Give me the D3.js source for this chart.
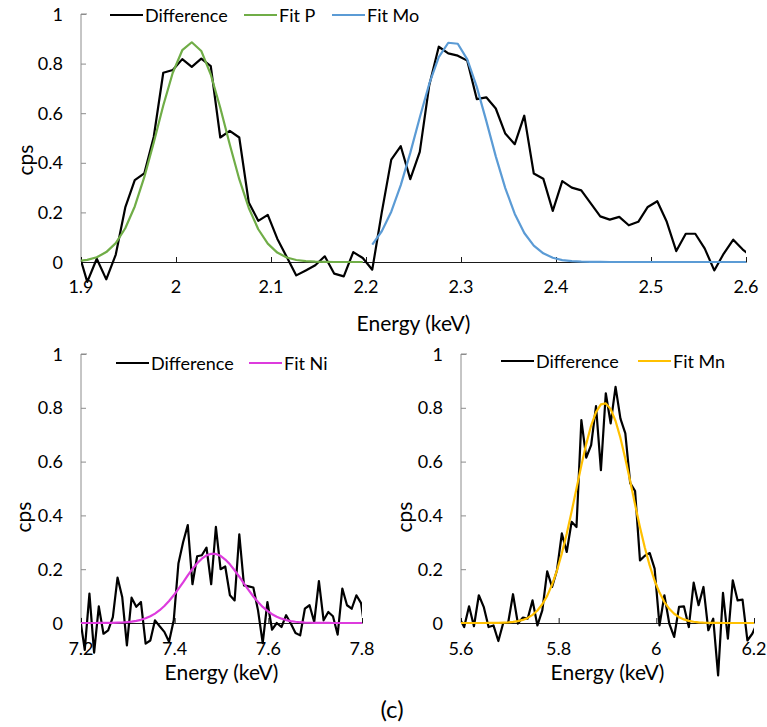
<!DOCTYPE html>
<html><head><meta charset="utf-8">
<script src="https://cdn.jsdelivr.net/npm/d3@7"></script>
<style>
body{margin:0;background:#fff;}
svg text{font-family:Lato,"Open Sans",sans-serif;fill:#000;}
</style></head>
<body><svg id="c" width="767" height="727"></svg>
<script>
// ---------- Top panel (P and Mo) ----------
const energiesTop = [1.8966,1.9066,1.9166,1.9266,1.9366,1.9466,1.9566,1.9666,1.9766,1.9866,
1.9966,2.0066,2.0166,2.0266,2.0366,2.0466,2.0566,2.0666,2.0766,2.0866,
2.0966,2.1066,2.1166,2.1266,2.1366,2.1466,2.1566,2.1666,2.1766,2.1866,
2.1966,2.2066,2.2166,2.2266,2.2366,2.2466,2.2566,2.2666,2.2766,2.2866,
2.2966,2.3066,2.3166,2.3266,2.3366,2.3466,2.3566,2.3666,2.3766,2.3866,
2.3966,2.4066,2.4166,2.4266,2.4366,2.4466,2.4566,2.4666,2.4766,2.4866,
2.4966,2.5066,2.5166,2.5266,2.5366,2.5466,2.5566,2.5666,2.5766,2.5866,
2.5966,2.6066];
const diffTop = [0.05,-0.08,0.013,-0.07,0.03,0.22,0.33,0.357,0.505,0.763,
0.774,0.818,0.787,0.82,0.79,0.502,0.529,0.502,0.24,0.166,
0.19,0.094,0.02,-0.054,-0.034,-0.013,0.023,-0.047,-0.058,0.04,
0.016,-0.031,0.2,0.413,0.467,0.334,0.444,0.713,0.868,0.841,
0.832,0.812,0.657,0.664,0.619,0.518,0.475,0.59,0.357,0.336,
0.206,0.326,0.30,0.289,0.236,0.184,0.171,0.182,0.148,0.162,
0.222,0.245,0.162,0.044,0.114,0.114,0.054,-0.034,0.034,0.09,
0.05,0.02];
// Fit P covers energiesTop[0..30], Fit Mo covers energiesTop[31..71]
const fitP = [0.0035,0.0085,0.019,0.040,0.076,0.136,0.224,0.342,0.482,0.631,
0.763,0.854,0.886,0.851,0.756,0.622,0.474,0.334,0.218,0.132,
0.074,0.038,0.018,0.008,0.0033,0.0013,0.0004,0.0001,0,0,0];
const fitMo = [0.070,0.124,0.203,0.310,0.440,0.583,0.719,0.826,0.884,0.880,
0.817,0.706,0.569,0.426,0.298,0.194,0.117,0.066,0.035,0.017,
0.0078,0.0033,0.0013,0.0005,0.0002,0,0,0,0,0,
0,0,0,0,0,0,0,0,0,0,0];
const topTicks = [1.9,2.0,2.1,2.2,2.3,2.4,2.5,2.6];
const topTickLabels = ["1.9","2","2.1","2.2","2.3","2.4","2.5","2.6"];

// ---------- Bottom-left panel (Ni) ----------
const energiesNi = [7.198,7.208,7.218,7.228,7.238,7.248,7.258,7.268,7.278,7.288,
7.298,7.308,7.318,7.328,7.338,7.348,7.358,7.368,7.378,7.388,
7.398,7.408,7.418,7.428,7.438,7.448,7.458,7.468,7.478,7.488,
7.498,7.508,7.518,7.528,7.538,7.548,7.558,7.568,7.578,7.588,
7.598,7.608,7.618,7.628,7.638,7.648,7.658,7.668,7.678,7.688,
7.698,7.708,7.718,7.728,7.738,7.748,7.758,7.768,7.778,7.788,
7.798,7.808];
const diffNi = [0.02,-0.1,0.109,-0.11,0.062,-0.04,-0.027,0.022,0.169,0.097,
-0.083,0.094,0.06,0.078,-0.077,-0.065,0.01,-0.012,-0.033,-0.07,
0.01,0.221,0.30,0.364,0.144,0.248,0.252,0.28,0.144,0.357,
0.2,0.21,0.103,0.084,0.33,0.14,0.136,0.132,0.047,-0.075,
0.078,-0.025,0,-0.015,0.029,-0.002,-0.037,-0.046,0.053,0.066,
0.004,0.156,0.01,0.041,0.025,-0.043,0.128,0.066,0.053,0.103,
0.074,-0.05];
const fitNi = [0,0,0,0,0.0001,0.0002,0.0004,0.0007,0.0012,0.0019,
0.0032,0.0050,0.0078,0.0118,0.0174,0.0249,0.0349,0.0476,0.0632,0.0818,
0.103,0.127,0.151,0.177,0.201,0.222,0.239,0.2515,0.2575,0.2568,
0.2495,0.236,0.218,0.196,0.172,0.146,0.122,0.0986,0.0778,0.0598,
0.0448,0.0327,0.0233,0.0161,0.0109,0.0072,0.0046,0.0029,0.0017,0.001,
0.0006,0.0003,0.0002,0.0001,0,0,0,0,0,0,
0,0];
const niTicks = [7.2,7.4,7.6,7.8];
const niTickLabels = ["7.2","7.4","7.6","7.8"];

// ---------- Bottom-right panel (Mn) ----------
const energiesMn = [5.5965,5.6065,5.6165,5.6265,5.6365,5.6465,5.6565,5.6665,5.6765,5.6865,
5.6965,5.7065,5.7165,5.7265,5.7365,5.7465,5.7565,5.7665,5.7765,5.7865,
5.7965,5.8065,5.8165,5.8265,5.8365,5.8465,5.8565,5.8665,5.8765,5.8865,
5.8965,5.9065,5.9165,5.9265,5.9365,5.9465,5.9565,5.9665,5.9765,5.9865,
5.9965,6.0065,6.0165,6.0265,6.0365,6.0465,6.0565,6.0665,6.0765,6.0865,
6.0965,6.1065,6.1165,6.1265,6.1365,6.1465,6.1565,6.1665,6.1765,6.1865,
6.1965,6.2065];
const diffMn = [0.02,-0.015,0.062,-0.012,0.103,0.06,-0.015,-0.009,-0.067,0,
0,0.107,-0.002,0.02,0.016,0.084,-0.009,0.047,0.192,0.134,
0.196,0.333,0.264,0.376,0.357,0.754,0.615,0.661,0.806,0.568,
0.854,0.742,0.878,0.76,0.705,0.52,0.49,0.233,0.25,0.26,
0.202,-0.009,0.103,-0.002,-0.052,0.06,0.062,-0.015,0.15,0.066,
0.134,-0.027,0.016,-0.195,0.112,-0.058,0.159,0.084,0.087,-0.065,
-0.04,0.0];
const fitMn = [0,0,0,0,0,0,0.0001,0.0003,0.0006,0.0012,
0.0022,0.0039,0.0068,0.0115,0.0189,0.030,0.0465,0.0697,0.101,0.143,
0.195,0.259,0.332,0.414,0.500,0.586,0.666,0.734,0.784,0.813,
0.8165,0.795,0.751,0.688,0.611,0.527,0.440,0.356,0.280,0.213,
0.157,0.113,0.078,0.0527,0.0344,0.0218,0.0134,0.008,0.0046,0.0026,
0.0014,0.0007,0.0004,0.0002,0,0,0,0,0,0,
0,0];
const mnTicks = [5.6,5.8,6.0,6.2];
const mnTickLabels = ["5.6","5.8","6","6.2"];

const yTicks = [0,0.2,0.4,0.6,0.8,1];
const yTickLabels = ["0","0.2","0.4","0.6","0.8","1"];

const svg = d3.select("#c");
let clipId = 0;

function panel(cfg){
  const x = d3.scaleLinear().domain(cfg.xDomain).range(cfg.xRange);
  const y = d3.scaleLinear().domain([0,1]).range(cfg.yRange);
  const g = svg.append("g");
  const id = "clip"+(clipId++);
  svg.append("clipPath").attr("id",id).append("rect")
    .attr("x",cfg.xRange[0]).attr("y",0)
    .attr("width",cfg.xRange[1]-cfg.xRange[0]).attr("height",727);

  // y axis
  const yAxis = d3.axisRight(y).tickValues(yTicks).tickSize(5).tickFormat("");
  const ya = g.append("g").attr("transform",`translate(${cfg.xRange[0]},0)`).call(yAxis);
  ya.selectAll("path,line").attr("stroke","#8c8c8c").attr("stroke-width",1);
  ya.select(".domain").attr("d",`M0,${cfg.yRange[0]}V${cfg.yRange[1]}h6`);
  g.selectAll(".ylab").data(yTicks).enter().append("text")
    .attr("x",cfg.xRange[0]-18).attr("y",d=>y(d)+6.5)
    .attr("text-anchor","end").attr("font-size",18)
    .text((d,i)=>yTickLabels[i]);

  // x axis
  const xAxis = d3.axisTop(x).tickValues(cfg.ticks).tickSize(5).tickSizeOuter(0).tickFormat("");
  const xa = g.append("g").attr("transform",`translate(0,${y(0)})`).call(xAxis);
  xa.selectAll("path,line").attr("stroke","#1a1a1a").attr("stroke-width",1);
  g.selectAll(".xlab").data(cfg.ticks).enter().append("text")
    .attr("x",d=>x(d)).attr("y",cfg.xLabelY)
    .attr("text-anchor","middle").attr("font-size",18)
    .text((d,i)=>cfg.tickLabels[i]);

  // titles
  g.append("text").attr("x",(cfg.xRange[0]+cfg.xRange[1])/2).attr("y",cfg.titleY)
    .attr("text-anchor","middle").attr("font-size",21).text("Energy (keV)");
  g.append("text").attr("transform",`translate(${cfg.cpsX},${cfg.cpsY}) rotate(-90)`)
    .attr("text-anchor","middle").attr("dominant-baseline","central")
    .attr("font-size",21).text("cps");

  // series
  const plot = g.append("g").attr("clip-path",`url(#${id})`);
  const line = d3.line().x(d=>x(d[0])).y(d=>y(d[1]));
  cfg.series.forEach(s=>{
    plot.append("path").datum(s.e.map((e,i)=>[e,s.v[i]]))
      .attr("d",line).attr("fill","none").attr("stroke",s.color)
      .attr("stroke-width",s.w).attr("stroke-linejoin","round");
  });

  // legend
  cfg.legend.forEach(l=>{
    g.append("line").attr("x1",l.x).attr("x2",l.x+33).attr("y1",cfg.legendY).attr("y2",cfg.legendY)
      .attr("stroke",l.color).attr("stroke-width",2.2);
    g.append("text").attr("x",l.x+35).attr("y",cfg.legendY).attr("dominant-baseline","central")
      .attr("font-size",18).text(l.label);
  });
}

panel({
  xDomain:[1.9,2.6], xRange:[81,746], yRange:[262,14],
  ticks: topTicks, tickLabels: topTickLabels, xLabelY:293, titleY:331,
  cpsX:24, cpsY:160, legendY:15,
  series:[
    {e:energiesTop, v:diffTop, color:"#000", w:2.2},
    {e:energiesTop.slice(0,31), v:fitP, color:"#70AD47", w:2.2},
    {e:energiesTop.slice(31), v:fitMo, color:"#5B9BD5", w:2.2}
  ],
  legend:[
    {x:110,label:"Difference",color:"#000"},
    {x:244,label:"Fit P",color:"#70AD47"},
    {x:332,label:"Fit Mo",color:"#5B9BD5"}
  ]
});

panel({
  xDomain:[7.2,7.8], xRange:[81,362], yRange:[623,354],
  ticks: niTicks, tickLabels: niTickLabels, xLabelY:655, titleY:680,
  cpsX:22, cpsY:517, legendY:363,
  series:[
    {e:energiesNi, v:diffNi, color:"#000", w:2.2},
    {e:energiesNi, v:fitNi, color:"#DD3BDD", w:2.2}
  ],
  legend:[
    {x:116,label:"Difference",color:"#000"},
    {x:249,label:"Fit Ni",color:"#DD3BDD"}
  ]
});

panel({
  xDomain:[5.6,6.2], xRange:[461,754], yRange:[623,354],
  ticks: mnTicks, tickLabels: mnTickLabels, xLabelY:655, titleY:680,
  cpsX:403, cpsY:517, legendY:361,
  series:[
    {e:energiesMn, v:diffMn, color:"#000", w:2.2},
    {e:energiesMn, v:fitMn, color:"#FFC000", w:2.2}
  ],
  legend:[
    {x:501,label:"Difference",color:"#000"},
    {x:638,label:"Fit Mn",color:"#FFC000"}
  ]
});

svg.append("text").attr("x",392).attr("y",718).attr("text-anchor","middle")
  .attr("font-size",24).text("(c)");
</script></body></html>
